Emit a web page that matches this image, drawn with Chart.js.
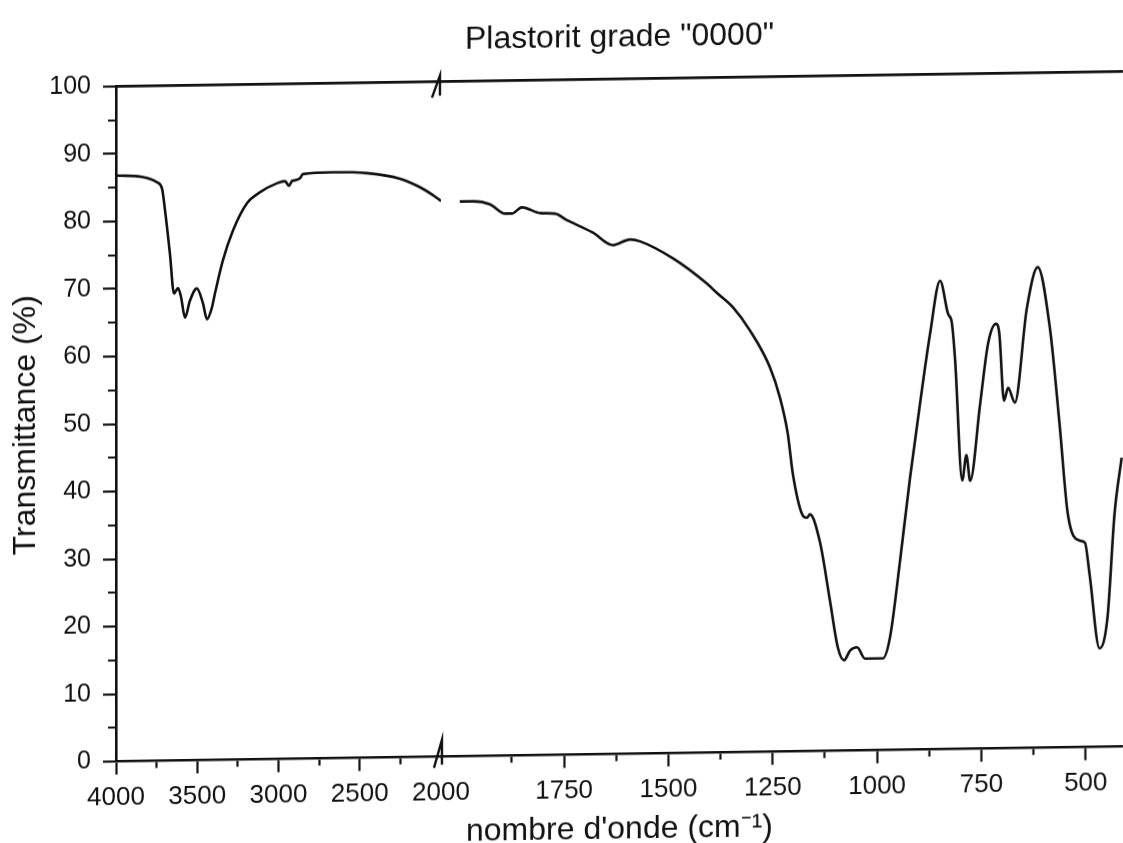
<!DOCTYPE html>
<html>
<head>
<meta charset="utf-8">
<script src="https://cdn.jsdelivr.net/npm/chart.js@4.4.1/dist/chart.umd.min.js"></script>
<style>
html, body { margin: 0; padding: 0; background: #fff; overflow: hidden; width: 1123px; height: 843px; }
#c { display: block; transform: skewY(-0.85deg); transform-origin: 116px 0; }
</style>
</head>
<body>
<canvas id="c" width="1123" height="856"></canvas>
<script>
// ---- data (wavenumber in cm-1, transmittance in %) ----
const leftWn = [4000, 3834, 3748, 3717, 3698, 3668, 3643, 3618, 3600, 3575, 3545, 3502, 3465, 3440, 3411, 3391, 3342, 3280, 3194, 3114, 3009, 2960, 2935, 2917, 2898, 2868, 2849, 2665, 2455, 2252, 2129, 2049, 2000];
const leftT  = [86.8, 86.5, 85.7, 84.8, 81.5, 75.1, 69.2, 70.0, 68.7, 65.6, 68.1, 69.9, 67.7, 65.3, 66.9, 69.1, 74.0, 78.4, 82.4, 84.0, 85.3, 85.6, 84.9, 85.6, 85.7, 86.0, 86.6, 86.8, 86.6, 85.7, 84.4, 83.2, 82.3];

const rightWn = [2000, 1968, 1927, 1891, 1875, 1851, 1807, 1772, 1743, 1681, 1633, 1592, 1568, 1489, 1408, 1384, 1345, 1305, 1257, 1233, 1214, 1202, 1180, 1168, 1161, 1137, 1113, 1094, 1079, 1065, 1048, 1029, 1010, 986, 969, 945, 921, 897, 873, 849, 830, 821, 813, 796, 786, 777, 753, 734, 715, 707, 696, 686, 670, 641, 615, 586, 562, 543, 514, 502, 491, 467, 448, 431, 414];
const rightT  = [82.2, 82.2, 81.7, 80.3, 80.3, 81.2, 80.3, 80.2, 79.2, 77.3, 75.4, 76.2, 75.9, 73.3, 69.5, 68.1, 65.9, 62.5, 57.0, 52.5, 47.1, 41.2, 35.2, 34.6, 35.1, 31.0, 22.3, 15.3, 13.4, 14.8, 15.3, 13.6, 13.6, 13.6, 16.7, 28.0, 40.3, 51.3, 61.6, 69.4, 64.5, 63.2, 57.6, 39.8, 43.5, 39.7, 51.1, 60.0, 62.9, 61.4, 51.5, 53.4, 51.2, 65.2, 71.2, 62.2, 47.4, 34.6, 30.6, 30.3, 25.7, 14.6, 19.1, 34.5, 42.8];

// ---- ticks (all tick marks) and labelled ticks ----
const leftTickValues  = [4000, 3750, 3500, 3250, 3000, 2750, 2500, 2250, 2000];
const rightTickValues = [2000, 1875, 1750, 1625, 1500, 1375, 1250, 1125, 1000, 875, 750, 625, 500];
const leftMajorTicks  = [4000, 3500, 3000, 2500, 2000];
const rightMajorTicks = [1750, 1500, 1250, 1000, 750, 500];
const yMajorTicks     = [0, 10, 20, 30, 40, 50, 60, 70, 80, 90, 100];

// ---- texts ----
const chartTitle = 'Plastorit grade "0000"';
const xTitle = "nombre d'onde (cm\u207B\u00B9)";
const yTitle = 'Transmittance (%)';

const INK = '#111';
const FAMILY = "'Liberation Sans', Arial, Helvetica, sans-serif";
Chart.defaults.font.family = FAMILY;
Chart.defaults.color = INK;

const toPts = (xs, ys) => xs.map((x, i) => ({ x: x, y: ys[i] }));

function xAxis(min, max, tickValues, majors, weight, hidden) {
  return {
    type: 'linear', axis: 'x', position: 'bottom',
    stack: 'wn', stackWeight: weight,
    min: min, max: max, reverse: true,
    afterBuildTicks: (s) => { s.ticks = tickValues.map(v => ({ value: v })); },
    afterFit: (s) => { s.paddingLeft = 0; s.paddingRight = 0; s.height = 56; },
    ticks: {
      autoSkip: false, maxRotation: 0, minRotation: 0,
      padding: 8, color: INK,
      font: { size: 26 },
      callback: (v) => (majors.includes(v) && v !== hidden) ? String(v) : ''
    },
    grid: {
      drawOnChartArea: false, tickLength: 13, tickWidth: 2.2, tickColor: INK,
      tickBorderDash: (c) => {
        const v = c.tick ? c.tick.value : null;
        if (v === 2000) return [0, 100];
        return majors.includes(v) ? [] : [6, 100];
      }
    },
    border: { display: true, color: INK, width: 2.6 }
  };
}

const framePlugin = {
  id: 'frame',
  afterDraw(chart) {
    const { ctx, chartArea, scales } = chart;
    const top = scales.y.getPixelForValue(100);
    const bottom = scales.y.getPixelForValue(0);
    const bx = scales.xL.right;
    ctx.save();
    ctx.strokeStyle = INK;
    ctx.lineWidth = 2.6;
    ctx.beginPath();
    ctx.moveTo(chartArea.left, top);
    ctx.lineTo(chartArea.right, top);
    ctx.stroke();
    ctx.lineWidth = 2.4;
    // bottom break mark
    ctx.beginPath();
    ctx.moveTo(bx - 7, bottom + 11);
    ctx.lineTo(bx + 1, bottom - 17);
    ctx.lineTo(bx + 1, bottom + 8);
    ctx.stroke();
    // top break mark
    ctx.beginPath();
    ctx.moveTo(bx - 9, top + 16);
    ctx.lineTo(bx - 1, top - 6);
    ctx.lineTo(bx - 1, top + 14);
    ctx.stroke();
    ctx.restore();
  }
};

const lineStyle = {
  borderColor: INK, borderWidth: 2.6, pointRadius: 0, fill: false,
  tension: 0.4, cubicInterpolationMode: 'monotone'
};

new Chart(document.getElementById('c'), {
  type: 'line',
  data: {
    datasets: [
      Object.assign({ label: '4000-2000', data: toPts(leftWn, leftT), xAxisID: 'xL', yAxisID: 'y' }, lineStyle),
      Object.assign({ label: '2000-400', data: toPts(rightWn, rightT), xAxisID: 'xR', yAxisID: 'y' }, lineStyle)
    ]
  },
  options: {
    responsive: false,
    devicePixelRatio: 1,
    animation: false,
    layout: { padding: 0 },
    plugins: {
      legend: { display: false },
      tooltip: { enabled: false },
      title: {
        display: true, text: chartTitle, fullSize: false, color: INK,
        font: { size: 32, weight: 'normal' },
        padding: { top: 26, bottom: 22 }
      },
      subtitle: {
        display: true, text: xTitle, position: 'bottom', fullSize: false, color: INK,
        font: { size: 32, weight: 'normal' },
        padding: { top: 0, bottom: 0 }
      }
    },
    scales: {
      xL: xAxis(2000, 4000, leftTickValues, leftMajorTicks, 325, null),
      xR: xAxis(411, 2045, rightTickValues, rightMajorTicks, 682, 2000),
      y: {
        type: 'linear', position: 'left', min: 0, max: 100,
        afterFit: (s) => { s.width = 116; },
        title: {
          display: true, text: yTitle, color: INK,
          font: { size: 32 }, padding: { top: 7, bottom: 0 }
        },
        ticks: {
          stepSize: 5, autoSkip: false, padding: 12, color: INK,
          font: { size: 25 },
          callback: (v) => yMajorTicks.includes(v) ? String(v) : ''
        },
        grid: {
          drawOnChartArea: false, tickLength: 13, tickWidth: 2.2, tickColor: INK,
          tickBorderDash: (c) => {
            const v = c.tick ? c.tick.value : null;
            return yMajorTicks.includes(v) ? [] : [0, 5, 8, 100];
          }
        },
        border: { display: true, color: INK, width: 2.6 }
      }
    }
  },
  plugins: [framePlugin]
});
</script>
</body>
</html>
